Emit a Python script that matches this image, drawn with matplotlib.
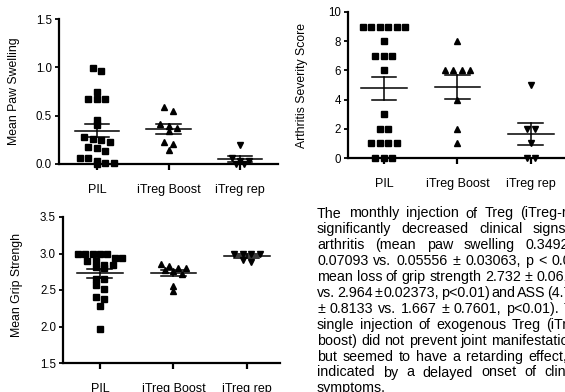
import numpy as np
import matplotlib
matplotlib.use("Agg")
import matplotlib.pyplot as plt

plt.rcParams['font.family'] = ['Liberation Sans', 'DejaVu Sans']

groups = ['PIL', 'iTreg Boost', 'iTreg rep']

paw_pil = [0.99, 0.96, 0.74, 0.67, 0.67, 0.67, 0.46, 0.40, 0.28, 0.26, 0.25,
           0.23, 0.18, 0.17, 0.13, 0.06, 0.06, 0.03, 0.01, 0.01, 0.0]
paw_boost = [0.585, 0.55, 0.41, 0.39, 0.37, 0.345, 0.23, 0.21, 0.145]
paw_rep = [0.20, 0.065, 0.03, 0.03, 0.0, 0.0]

ass_pil = [9, 9, 9, 9, 9, 9, 8, 7, 7, 7, 6, 3, 2, 2, 1, 1, 1, 1, 0, 0, 0]
ass_boost = [8, 6, 6, 6, 6, 4, 2, 1]
ass_rep = [5, 2, 2, 1, 0, 0]

grip_pil = [3.0, 3.0, 3.0, 2.99, 2.99, 2.94, 2.94, 2.90, 2.90, 2.84, 2.84,
            2.82, 2.80, 2.65, 2.65, 2.57, 2.51, 2.40, 2.37, 2.28, 1.97]
grip_boost = [2.85, 2.83, 2.80, 2.80, 2.78, 2.76, 2.72, 2.56, 2.48]
grip_rep = [3.0, 3.0, 3.0, 3.0, 2.91, 2.88]

paragraph = [
    "The monthly injection of Treg (iTreg-rep)",
    "significantly decreased clinical signs of",
    "arthritis (mean paw swelling 0.3492 \u00b1",
    "0.07093 vs. 0.05556 \u00b1 0.03063, p < 0.01),",
    "mean loss of grip strength 2.732 \u00b1 0.06178",
    "vs. 2.964 \u00b1 0.02373, p<0.01) and ASS (4.762",
    "\u00b1 0.8133 vs. 1.667 \u00b1 0.7601, p<0.01). The",
    "single injection of exogenous Treg (iTreg-",
    "boost) did not prevent joint manifestations,",
    "but seemed to have a retarding effect, as",
    "indicated by a delayed onset of clinical",
    "symptoms.",
]

W, H = 565, 392
fig = plt.figure(figsize=(W / 100, H / 100), dpi=100)


def px_axes(left, right, top, bottom):
    return fig.add_axes([left / W, 1 - bottom / H, (right - left) / W, (bottom - top) / H])


def spread(ax, vals, center, step_px=8.5, row_px=5.0, max_w=44):
    # prism-like column scatter: group close values into rows, centre each row
    to_px = ax.transData
    order = np.argsort(vals)[::-1]
    rows = []
    for i in order:
        ypx = to_px.transform((center, vals[i]))[1]
        if rows and abs(rows[-1][0] - ypx) < row_px:
            rows[-1][1].append(i)
        else:
            rows.append([ypx, [i]])
    cx = to_px.transform((center, 0))[0]
    xs = np.zeros(len(vals))
    for _, idx in rows:
        n = len(idx)
        step = step_px if n < 2 else min(step_px, max_w / (n - 1))
        for k, i in enumerate(idx):
            xpx = cx + (k - (n - 1) / 2) * step
            xs[i] = to_px.inverted().transform((xpx, 0))[0]
    return xs


def scatter_panel(ax, data, markers, ylim, yticks, ylabel, label_x, xlim, label_y=None):
    ax.set_xlim(*xlim)
    ax.set_ylim(*ylim)
    for side in ['top', 'right']:
        ax.spines[side].set_visible(False)
    for side in ['left', 'bottom']:
        ax.spines[side].set_linewidth(1.6)
    ax.set_yticks(yticks)
    ax.set_xticks(range(len(groups)))
    ax.set_xticklabels(groups, fontsize=9)
    ax.tick_params(axis='y', length=3, width=1.3, pad=2, labelsize=8.3)
    ax.tick_params(axis='x', length=4, width=1.6, pad=10.5)
    for i, (vals, m) in enumerate(zip(data, markers)):
        vals = np.array(vals, dtype=float)
        xs = spread(ax, vals, i)
        ax.plot(xs, vals, m, color='black', markersize=4.4 if m == 's' else 4.8,
                linestyle='none', clip_on=False, zorder=3)
        mean = vals.mean()
        sem = vals.std(ddof=1) / np.sqrt(len(vals))
        ax.plot([i - 0.31, i + 0.31], [mean, mean], color='black', lw=1.1, zorder=4)
        ax.plot([i, i], [mean - sem, mean + sem], color='black', lw=1.1, zorder=4)
        for y in (mean - sem, mean + sem):
            ax.plot([i - 0.17, i + 0.17], [y, y], color='black', lw=1.1, zorder=4)
    bb = ax.get_position()
    yc = bb.y0 + bb.height / 2 if label_y is None else 1 - label_y / H
    fig.text(label_x / W, yc, ylabel, rotation=90,
             ha='center', va='center', fontsize=8.8)


markers = ['s', '^', 'v']

ax1 = px_axes(59, 278, 19, 164)
scatter_panel(ax1, [paw_pil, paw_boost, paw_rep], markers, (0, 1.5),
              [0, 0.5, 1.0, 1.5], 'Mean Paw Swelling', 14, (-0.531, 2.53))
ax1.set_yticklabels(['0.0', '0.5', '1.0', '1.5'])

ax2 = px_axes(348, 575, 12, 158)
scatter_panel(ax2, [ass_pil, ass_boost, ass_rep], markers, (0, 10),
              [0, 2, 4, 6, 8, 10], 'Arthritis Severity Score', 302, (-0.49, 2.60))

ax3 = px_axes(63, 280, 217, 363)
scatter_panel(ax3, [grip_pil, grip_boost, grip_rep], markers, (1.5, 3.5),
              [1.5, 2.0, 2.5, 3.0, 3.5], 'Mean Grip Strengh', 17, (-0.503, 2.45),
              label_y=285)

# justified paragraph, running past the right edge like the source
renderer = fig.canvas.get_renderer()
txt_kw = dict(fontsize=10.3, color='black')
x0, x1 = 317, 588
base0, pitch = 217.5, 15.9


def text_w(s):
    t = fig.text(0, 0, s, **txt_kw)
    w = t.get_window_extent(renderer).width
    t.remove()
    return w


for n, line in enumerate(paragraph):
    y = 1 - (base0 + n * pitch) / H
    words = line.split(' ')
    widths = [text_w(w) for w in words]
    if n == len(paragraph) - 1 or len(words) == 1:
        fig.text(x0 / W, y, line, ha='left', va='baseline', **txt_kw)
        continue
    gap = (x1 - x0 - sum(widths)) / (len(words) - 1)
    x = x0
    for w, wd in zip(words, widths):
        fig.text(x / W, y, w, ha='left', va='baseline', **txt_kw)
        x += wd + gap

fig.savefig('out.png', dpi=100)
